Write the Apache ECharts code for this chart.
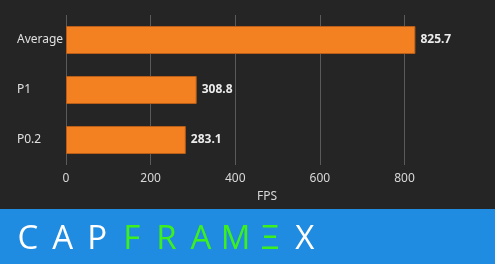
<!DOCTYPE html>
<html><head><meta charset="utf-8">
<script src="https://cdn.jsdelivr.net/npm/echarts@6/dist/echarts.min.js"></script>
<style>html,body{margin:0;padding:0;background:#252525}#c{width:495px;height:264px}</style>
</head><body><div id="c"></div>
<script>
const categories = ['Average', 'P1', 'P0.2'];
const fpsValues = [825.7, 308.8, 283.1];
const axisName = 'FPS';
const logoLetters = ['C','A','P','F','R','A','M','Ξ','X'];
const logoColors = ['#ffffff','#ffffff','#ffffff','#3cf01e','#3cf01e','#3cf01e','#3cf01e','#3cf01e','#ffffff'];

const chart = echarts.init(document.getElementById('c'), null, {renderer:'canvas'});
const font = '"Noto Sans", "Open Sans", sans-serif';
const graphics = [{
  type:'rect', left:0, top:209, shape:{width:495, height:55}, style:{fill:'#1f8be1'}, silent:true
}];
logoLetters.forEach((ch, i) => {
  graphics.push({
    type:'text', x: 28 + i*34.6, y: 240,
    style:{text:ch, fill:logoColors[i], font:'normal 33px "Open Sans", "Noto Sans", sans-serif',
      textAlign:'center', textVerticalAlign:'middle',
      shadowColor:'rgba(0,0,0,0.25)', shadowBlur:3, shadowOffsetX:1, shadowOffsetY:1}
  });
});
chart.setOption({
  backgroundColor:'#252525',
  animation:false,
  grid:{left:66, top:15, height:150, width:402, containLabel:false},
  xAxis:{
    type:'value', min:0, max:950, interval:200,
    name:axisName, nameLocation:'middle', nameGap:26,
    nameTextStyle:{color:'#d8d8d8', fontSize:12, fontFamily:font},
    axisLine:{show:false}, axisTick:{show:false},
    axisLabel:{color:'#d8d8d8', fontSize:12, fontFamily:font, margin:8, showMaxLabel:false},
    splitLine:{show:true, showMaxLine:false, lineStyle:{color:'#5a5a5a', width:1}}
  },
  yAxis:{
    type:'category', data:categories, inverse:true,
    axisLine:{show:false}, axisTick:{show:false},
    axisLabel:{color:'#e0e0e0', fontSize:12, fontFamily:font, align:'left', margin:49}
  },
  series:[{
    type:'bar', data:fpsValues, barWidth:'56%',
    itemStyle:{color:'#f38021', borderColor:'#b85e18', borderWidth:1},
    label:{show:true, position:'right', distance:5, color:'#ececec', fontWeight:'bold',
      fontSize:12, fontFamily:font, formatter:p => p.value.toFixed(1)}
  }],
  graphic:graphics
});
</script></body></html>
